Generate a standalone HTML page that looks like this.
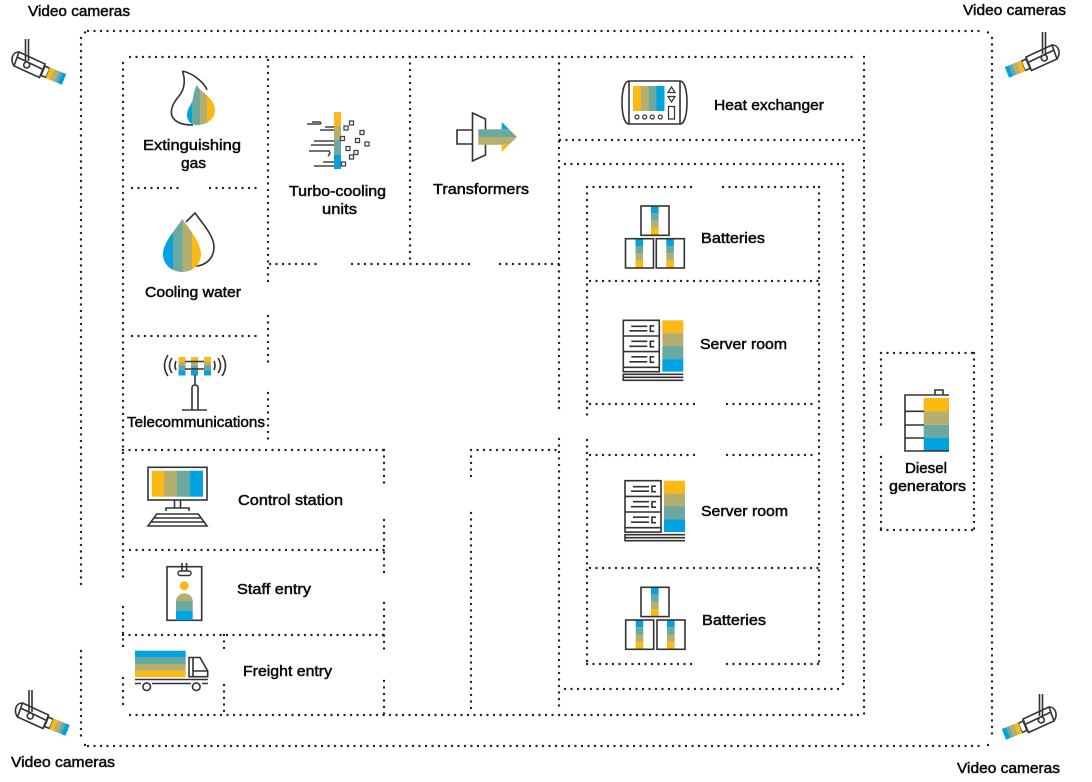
<!DOCTYPE html>
<html><head><meta charset="utf-8"><style>
html,body{margin:0;padding:0;background:#fff}
svg{display:block}
text{font-family:"Liberation Sans",sans-serif;font-size:15px;fill:#0c0c0c;stroke:#0c0c0c;stroke-width:.5px}
.d{fill:none;stroke:#222;stroke-width:2.4;stroke-linecap:round;stroke-dasharray:0 6.5}
.s{fill:none;stroke:#333;stroke-width:1.6}
.y{fill:#FDB913}.o{fill:#B5AE6E}.t{fill:#6BA89F}.b{fill:#00A3E0}
</style></head><body>
<svg width="1092" height="782" viewBox="0 0 1092 782" xmlns="http://www.w3.org/2000/svg">
<defs>
<clipPath id="fl"><path d="M197 85C199 92 214 96 215 110C215 120 206 125 197 125C190 125 187 120 187 115C187 108 192 105 193 98C194 92 195 88 197 85Z"/></clipPath>
<clipPath id="dr"><path d="M182.500 219C190 230 201 243 201 254C201 265 192 272 182.500 272C172 272 163 265 163 254C163 243 175 230 182.500 219Z"/></clipPath>
<g id="cam">
<path d="M19 52L45 64L39.500 77.500L14 66Z" fill="#fff" stroke="#333" stroke-width="1.600"/>
<path class="s" d="M17 57L42 69M19 52C12 52 10 60 14 66"/>
<path class="s" d="M25.500 39V61M28.500 39V61"/>
<circle cx="26.700" cy="65" r="3" fill="#fff" stroke="#333" stroke-width="1.600"/>
<path class="s" d="M45 66L50 68.500L46 77.500L41 75.500Z"/>
<g transform="translate(50 67.500) rotate(22)">
<rect class="y" x="0" y="0" width="4.500" height="11.500"/><rect class="o" x="4.500" y="0" width="5" height="11.500"/><rect class="t" x="9.500" y="0" width="3.500" height="11.500"/><rect class="b" x="13" y="0" width="4.500" height="11.500"/>
</g>
</g>
<g id="bat">
<rect class="b" x="10" y="0" width="7.600" height="7.300"/><rect class="t" x="10" y="7.300" width="7.600" height="7.300"/><rect class="o" x="10" y="14.600" width="7.600" height="7.300"/><rect class="y" x="10" y="21.900" width="7.600" height="7.400"/>
<rect class="s" width="28" height="29.300"/>
</g>
<g id="srv">
<path class="s" d="M0 0H36V51.400H0ZM0 15.700H36M0 31.300H36M0 47H36"/>
<path class="s" d="M8 6H24M6 10.500H24M8 21H24M6 26H24M8 36.500H24M6 41.500H24"/>
<path class="s" d="M31 5.500H27V11H31M31 21H27V26.500H31M31 36.500H27V42H31"/>
<rect class="y" x="39" width="21" height="12.800"/><rect class="o" x="39" y="12.800" width="21" height="13"/><rect class="t" x="39" y="25.800" width="21" height="13"/><rect class="b" x="39" y="38.800" width="21" height="12.600"/>
<path class="s" d="M60 54H0V60H60M0 57H60"/>
</g>
</defs>

<path class="d" d="M88 31H985M81 38V587M81 651V740M88 746H985M992 38V740M988 32.500L991 35M85 32.500L82.500 35M85 745L82.500 742M988 745L991 742"/>
<path class="d" d="M130 57H858M123 63V582M123 607V652M123 678V708M130 715H864M864 57V715"/>
<path class="d" d="M268 60V283M268 316V363M268 393V441"/>
<path class="d" d="M410 57V264M559 57V414M559 439V712"/>
<path class="d" d="M270 264H322M352 264H472M500 264H559"/>
<path class="d" d="M132 188H181M210 188H258M132 336H258"/>
<path class="d" d="M123 450H384M384 450V488M384 520V573M384 603V655M384 681V715"/>
<path class="d" d="M130 550H384M123 635H384M224 635V654M224 685V715"/>
<path class="d" d="M471 450H559M471 450V482M471 513V712"/>
<path class="d" d="M560 140H864M565 164H843M843 164V690M565 689H843"/>
<path class="d" d="M587 187H694M723 187H819M819 187V663M587 187V415M587 440V663M587 664H697M727 664H819"/>
<path class="d" d="M590 281H818M590 404H697M727 404H818M590 455H697M727 455H818M590 568H818"/>
<path class="d" d="M881 353H974M974 353V530M881 530H974M881 353V425M881 457V530"/>

<!-- Flame -->
<path class="s" d="M182.500 71C195 74 205 84 207 90M182.500 71C186 82 184 90 179 96C173 103 170 110 172 116C175 123 183 125 193 125"/>
<g clip-path="url(#fl)"><rect class="b" x="186" y="84" width="6" height="42"/><rect class="t" x="192" y="84" width="8" height="42"/><rect class="o" x="200" y="84" width="7" height="42"/><rect class="y" x="207" y="84" width="8" height="42"/></g>
<!-- Drop -->
<path class="s" d="M186 222L195 213C203 224 214 236 214 247C214 258 206 266 195 266L190 266"/>
<g clip-path="url(#dr)"><rect class="b" x="163" y="218" width="10" height="55"/><rect class="t" x="173" y="218" width="9.500" height="55"/><rect class="o" x="182.500" y="218" width="9.500" height="55"/><rect class="y" x="192" y="218" width="9" height="55"/></g>
<!-- Telecom -->
<g>
<rect class="y" x="178.500" y="357" width="7" height="5"/><rect class="o" x="178.500" y="362" width="7" height="3.500"/><rect class="t" x="178.500" y="365.500" width="7" height="5"/><rect class="b" x="178.500" y="370.500" width="7" height="5"/>
<rect class="y" x="191" y="357" width="7" height="5"/><rect class="o" x="191" y="362" width="7" height="3.500"/><rect class="t" x="191" y="365.500" width="7" height="5"/><rect class="b" x="191" y="370.500" width="7" height="5"/>
<rect class="y" x="204" y="357" width="7" height="5"/><rect class="o" x="204" y="362" width="7" height="3.500"/><rect class="t" x="204" y="365.500" width="7" height="5"/><rect class="b" x="204" y="370.500" width="7" height="5"/>
<path class="s" d="M185 361.500H204M185 369H204M195 375V385"/>
<path class="s" d="M192 409.500V388Q192 385 195 385Q198 385 198 388V409.500M182 410H207"/>
<path class="s" d="M168 355Q161 366 168 376M172 358Q167 366 172 373M176 361Q174 366 176 370M214 361Q216 366 214 370M218 358Q223 366 218 373M222 355Q229 366 222 376"/>
</g>
<!-- Turbo -->
<rect class="y" x="334" y="112" width="7" height="14"/><rect class="o" x="334" y="126" width="7" height="14"/><rect class="t" x="334" y="140" width="7" height="15"/><rect class="b" x="334" y="155" width="7" height="14"/>
<path d="M307 124H319Q322 124 320 122H312M320 130H334M325 127H334M314 141H334M311 145H334M309 151H329Q331 153 328 156M323 162H334M314 166H334" fill="none" stroke="#444" stroke-width="1.600"/>
<g fill="#fff" stroke="#444" stroke-width="1.300"><rect x="344" y="126" width="4" height="4"/><rect x="349.500" y="121" width="4" height="4"/><rect x="360" y="130.500" width="4" height="4"/><rect x="340.500" y="136.500" width="4" height="4"/><rect x="355.500" y="138.500" width="4" height="4"/><rect x="365" y="142" width="4" height="4"/><rect x="346" y="146.500" width="4" height="4"/><rect x="354" y="150.500" width="4" height="4"/><rect x="349.500" y="155" width="4" height="4"/><rect x="341.500" y="162" width="4" height="4"/></g>
<!-- Transformer -->
<path class="s" d="M472.500 130H457V144H472.500M472.500 113L485.500 119V155L472.500 161Z"/>
<rect class="t" x="478.300" y="129.300" width="24" height="8"/><rect class="o" x="478.300" y="137" width="24" height="7.800"/>
<path class="b" d="M501.700 122L509 129.300H501.700Z"/><path class="t" d="M501.700 129.300H509L517 137H501.700Z"/><path class="o" d="M501.700 137H517L509 144.700H501.700Z"/><path class="y" d="M501.700 144.700H509L501.700 152Z"/>
<!-- Heat exchanger -->
<path class="s" d="M629 81H680C685 81 687 92 687 102C687 113 685 124 680 124H629C624 124 622 113 622 102C622 92 624 81 629 81ZM629 81V124M680 81V124"/>
<rect class="y" x="633" y="86" width="8" height="25"/><rect class="o" x="641" y="86" width="8" height="25"/><rect class="t" x="649" y="86" width="7.500" height="25"/><rect class="b" x="656.500" y="86" width="8" height="25"/>
<path d="M671.500 87L675 92.500H668ZM671.500 102L675 96.500H668ZM668.500 106.500H674.500V119H668.500Z" fill="none" stroke="#333" stroke-width="1.200"/>
<g fill="none" stroke="#333" stroke-width="1.200"><circle cx="637" cy="117" r="2"/><circle cx="644.700" cy="117" r="2"/><circle cx="652.300" cy="117" r="2"/><circle cx="660.300" cy="117" r="2"/></g>
<!-- Batteries -->
<use href="#bat" x="641" y="206"/><use href="#bat" x="625.500" y="238.700"/><use href="#bat" x="656.300" y="238.700"/>
<use href="#bat" x="641" y="587.300"/><use href="#bat" x="625.700" y="620"/><use href="#bat" x="657" y="620"/>
<!-- Servers -->
<use href="#srv" x="623.300" y="320.300"/><use href="#srv" x="625" y="480.700"/>
<!-- Diesel -->
<rect class="y" x="923.700" y="398" width="25.300" height="13.500"/><rect class="o" x="923.700" y="411.500" width="25.300" height="13.300"/><rect class="t" x="923.700" y="424.800" width="25.300" height="13.200"/><rect class="b" x="923.700" y="438" width="25.300" height="13"/>
<path class="s" d="M949 395H905V451H949M905 411.300H924M905 425H924M905 438H924M935 395V390H943V395"/>
<!-- Control -->
<rect class="s" x="148" y="467.300" width="59" height="32.700"/>
<rect class="y" x="151.700" y="470.700" width="12.300" height="26"/><rect class="o" x="164" y="470.700" width="13" height="26"/><rect class="t" x="177" y="470.700" width="13" height="26"/><rect class="b" x="190" y="470.700" width="13" height="26"/>
<path class="s" d="M174.500 500V508M180.500 500V508M166 511V508H189V511M156.700 514H198.300L207 526H148ZM154 518H201M151 522H204"/>
<!-- Staff -->
<rect class="s" x="167" y="566.700" width="34.700" height="53.600"/>
<path class="s" d="M182 563V571M186.500 563V571"/>
<rect x="178" y="571" width="13" height="4.500" rx="2" fill="#fff" stroke="#333" stroke-width="1.400"/>
<circle class="y" cx="184.300" cy="585.700" r="4.500"/>
<path class="o" d="M176 601V600.500A8.400 8 0 0 1 192.700 600.500V601Z"/><rect class="t" x="176" y="601" width="16.700" height="9.700"/><rect class="b" x="176" y="610.700" width="16.700" height="9.600"/>
<!-- Truck -->
<rect class="b" x="135" y="650.700" width="50.700" height="6.700"/><rect class="t" x="135" y="657.400" width="50.700" height="6.600"/><rect class="o" x="135" y="664" width="50.700" height="6.700"/><rect class="y" x="135" y="670.700" width="50.700" height="6.300"/>
<path class="s" d="M189 657.500H200L207.700 671V676.700H189ZM193 657.500V676.700M193 671H207.700"/>
<path class="s" d="M135 679.500H208M135 683.500H141M152 683.500H191M202 683.500H208"/>
<circle class="s" cx="146.700" cy="686.700" r="3.800"/><circle class="s" cx="196.300" cy="686.700" r="3.800"/>
<!-- Cameras -->
<use href="#cam"/>
<use href="#cam" transform="translate(1071 -7) scale(-1 1)"/>
<use href="#cam" transform="translate(3.500 651)"/>
<use href="#cam" transform="translate(1068 655) scale(-1 1)"/>

<!-- Labels -->
<text x="28" y="16" textLength="102" lengthAdjust="spacingAndGlyphs">Video cameras</text>
<text x="963" y="15" textLength="103" lengthAdjust="spacingAndGlyphs">Video cameras</text>
<text x="11" y="767" textLength="104" lengthAdjust="spacingAndGlyphs">Video cameras</text>
<text x="957" y="773" textLength="103" lengthAdjust="spacingAndGlyphs">Video cameras</text>
<text x="143" y="150" textLength="98" lengthAdjust="spacingAndGlyphs">Extinguishing</text>
<text x="181" y="168" textLength="25" lengthAdjust="spacingAndGlyphs">gas</text>
<text x="145" y="297" textLength="96" lengthAdjust="spacingAndGlyphs">Cooling water</text>
<text x="127" y="427" textLength="138" lengthAdjust="spacingAndGlyphs">Telecommunications</text>
<text x="289" y="196" textLength="97" lengthAdjust="spacingAndGlyphs">Turbo-cooling</text>
<text x="322" y="214" textLength="35" lengthAdjust="spacingAndGlyphs">units</text>
<text x="433" y="194" textLength="96" lengthAdjust="spacingAndGlyphs">Transformers</text>
<text x="714" y="110" textLength="110" lengthAdjust="spacingAndGlyphs">Heat exchanger</text>
<text x="701" y="243" textLength="64" lengthAdjust="spacingAndGlyphs">Batteries</text>
<text x="700" y="349" textLength="87" lengthAdjust="spacingAndGlyphs">Server room</text>
<text x="701" y="516" textLength="87" lengthAdjust="spacingAndGlyphs">Server room</text>
<text x="702" y="625" textLength="64" lengthAdjust="spacingAndGlyphs">Batteries</text>
<text x="905" y="473" textLength="42" lengthAdjust="spacingAndGlyphs">Diesel</text>
<text x="889" y="491" textLength="77" lengthAdjust="spacingAndGlyphs">generators</text>
<text x="238" y="505" textLength="105" lengthAdjust="spacingAndGlyphs">Control station</text>
<text x="237" y="594" textLength="74" lengthAdjust="spacingAndGlyphs">Staff entry</text>
<text x="243" y="676" textLength="89" lengthAdjust="spacingAndGlyphs">Freight entry</text>
</svg>
</body></html>
